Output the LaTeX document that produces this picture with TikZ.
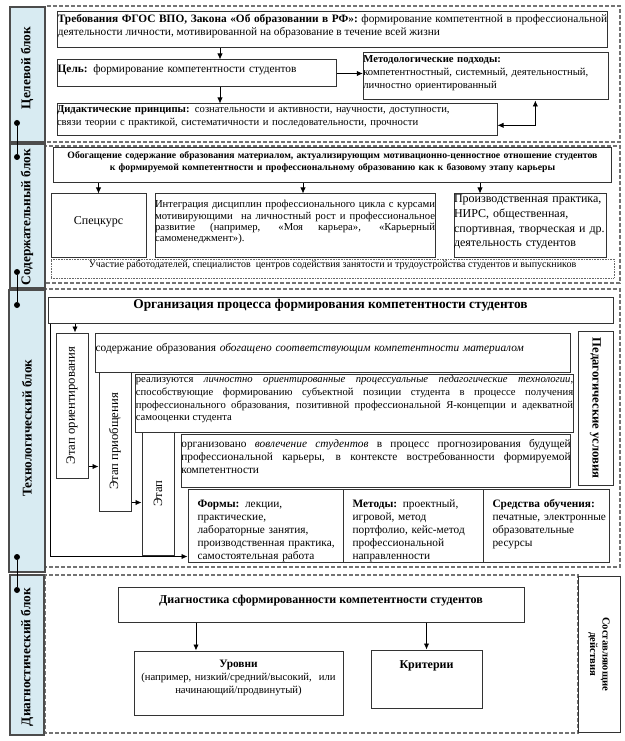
\documentclass[tikz,border=0pt]{standalone}
\usepackage{fontspec}
\setmainfont{Liberation Serif}
\usetikzlibrary{arrows.meta,fit}
\definecolor{stripblue}{RGB}{216,235,242}
\tikzset{>={Latex[width=4pt,length=4.5pt]}}
\tikzset{
  box/.style={draw=black!80, line width=0.75pt, fill=white, inner sep=0pt},
  dotbox/.style={draw=black!60, line width=0.6pt, dash pattern=on 0.6pt off 0.6pt, inner sep=0pt},
  strip/.style={draw=black!70, line width=0.9pt, fill=stripblue, inner sep=0pt},
  zone/.style={draw=black!55, line width=0.8pt, dash pattern=on 3pt off 1.5pt},
  dotend/.style={circle, fill=black, inner sep=0pt, minimum size=4.5pt},
  arr/.style={->, line width=0.6pt},
  t75/.style={font=\fontsize{7.5}{9}\selectfont},
  t8/.style={font=\fontsize{8}{9.5}\selectfont},
  t8c/.style={font=\fontsize{8}{8.5}\selectfont},
  t85/.style={font=\fontsize{8.5}{9.75}\selectfont},
  t9/.style={font=\fontsize{9}{11}\selectfont},
  t95/.style={font=\fontsize{9.5}{11}\selectfont},
  b73/.style={font=\fontsize{7.3}{9}\selectfont\bfseries},
  b8/.style={font=\fontsize{8}{9.5}\selectfont\bfseries},
  b9/.style={font=\fontsize{9}{11}\selectfont\bfseries},
  b95/.style={font=\fontsize{9.5}{11}\selectfont\bfseries},
  b10/.style={font=\fontsize{10}{12}\selectfont\bfseries},
}
\begin{document}
\begin{tikzpicture}[x=0.75pt,y=-0.75pt]
\useasboundingbox (0,0) rectangle (624,741);

% zones
\draw[zone] (45,6) rectangle (620,142);
\draw[zone] (45,146) rectangle (620,283);
\draw[zone] (45,289) rectangle (620,567);
\draw[zone] (45,575) rectangle (578,733);

% left strips
\node[strip, fit={(10,7) (45,142)}] (s1) {};
\node[strip, fit={(10,144) (45,288)}] (s2) {};
\node[strip, fit={(9,290) (45,572)}] (s3) {};
\node[strip, fit={(10,575) (44,735)}] (s4) {};
\node[b10, rotate=90] (s1t) at (27,68) {Целевой блок};
\node[b10, rotate=90] (s2t) at (27,217) {Содержательный блок};
\node[b10, rotate=90] (s3t) at (27,428) {Технологический блок};
\node[b10, rotate=90] (s4t) at (27,657) {Диагностический блок};

\node[dotend] (d1) at (17,123) {};
\node[dotend] (d2) at (17,157) {};
\node[dotend] (d3) at (17,272) {};
\node[dotend] (d4) at (17,305) {};
\node[dotend] (d5) at (17,557) {};
\node[dotend] (d6) at (17,590) {};
\draw[line width=0.6pt] (d1) -- (d2);
\draw[line width=0.6pt] (d3) -- (d4);
\draw[line width=0.6pt] (d5) -- (d6);

% block 1
\node[box, fit={(51,12) (614,48)}, t85, text width=412pt, align=justify] (treb)
  {\textbf{Требования ФГОС ВПО, Закона «Об образовании в РФ»:} формирование компетентной в профессиональной\linebreak деятельности личности, мотивированной на образование в течение всей жизни};
\node[box, fit={(51,60) (343,87)}, t85, text width=209pt, align=left] (cel)
  {\textbf{Цель:} формирование компетентности студентов};
\node[box, fit={(358,53) (614,100)}, t8, text width=184pt, align=left] (met)
  {\textbf{Методологические подходы:}\\компетентностный, системный, деятельностный,\\личностно ориентированный};
\node[box, fit={(51,104) (503,136)}, t8, text width=330pt, align=left] (did)
  {\textbf{Дидактические принципы:} сознательности и активности, научности, доступности,\\связи теории с практикой, систематичности и последовательности, прочности};
\coordinate (c1) at ([xshift=17.25pt]cel.north);
\coordinate (c2) at ([xshift=17.25pt]cel.south);
\draw[arr] (c1 |- treb.south) -- (c1);
\draw[arr] (c2) -- (c2 |- did.north);
\draw[arr] (cel.east) -- (cel.east -| met.west);
\coordinate (c3) at ([xshift=37pt]met.south);
\draw[<->, line width=0.6pt] ([yshift=-4pt]did.east) -| (c3);

% block 2
\node[box, fit={(51,148) (614,183)}, b73, text width=418pt, align=center] (obog)
  {Обогащение содержание образования материалом, актуализирующим мотивационно-ценностное отношение студентов\\к формируемой компетентности и профессиональному образованию как к базовому этапу карьеры};
\node[box, fit={(51,194) (146,258)}, t9] (spec) {Спецкурс};
\node[box, fit={(148,194) (442,258)}, t8c, text width=210pt, align=justify] (integ)
  {Интеграция дисциплин профессионального цикла с курсами\linebreak мотивирующими ~на личностный рост и профессиональное\linebreak развитие (например, «Моя карьера», «Карьерный\linebreak самоменеджмент»).};
\node[box, fit={(446,194) (614,258)}, t9, text width=114pt, align=left] (prakt)
  {Производственная практика,\\НИРС, общественная,\\спортивная, творческая и~др.\\деятельность студентов};
\node[dotbox, fit={(51,259) (614,278)}, t75] (uch)
  {Участие работодателей, специалистов ~центров содействия занятости и трудоустройства студентов и выпускников};
\coordinate (c4) at ([xshift=6pt]integ.north);
\coordinate (c5) at ([xshift=-37.5pt]prakt.north);
\draw[arr] (spec.north |- obog.south) -- (spec.north);
\draw[arr] (c4 |- obog.south) -- (c4);
\draw[arr] (c5 |- obog.south) -- (c5);

% block 3
\node[box, fit={(48,297) (613,323)}, b10] (org) {Организация процесса формирования компетентности студентов};
\node[box, fit={(188,489) (343,562)}] (formy) {};
\node[box, fit={(343,489) (483,562)}] (metody) {};
\node[box, fit={(483,489) (609,562)}] (sredstva) {};
\draw[arr] ([xshift=2.25pt]org.south west) |- ([yshift=4.5pt]formy.south west);
\node[box, fit={(56,333) (88,478)}] (etapO) {};
\node[t95, rotate=90] (etapOt) at (etapO.center) {Этап ориентирования};
\node[box, fit={(88,333) (578,372)}, t85, text width=356pt, align=left] (sodO)
  {содержание образования \textit{обогащено соответствующим компетентности материалом}};
\node[box, fit={(99,372) (131,511)}] (etapP) {};
\node[t95, rotate=90] (etapPt) at (etapP.center) {Этап приобщения};
\node[box, fit={(131,374) (578,432)}, t8, text width=328pt, align=justify] (real)
  {реализуются \textit{личностно ориентированные процессуальные педагогические технологии},\linebreak способствующие формированию субъектной позиции студента в процессе получения\linebreak профессионального образования, позитивной профессиональной Я-концепции и адекватной\linebreak самооценки студента};
\node[box, fit={(142,432) (174,555)}] (etap3) {};
\node[t95, rotate=90] (etap3t) at (etap3.center) {Этап};
\node[box, fit={(174,434) (578,487)}, t85, text width=292pt, align=justify] (vovl)
  {организовано \textit{вовлечение студентов} в процесс прогнозирования будущей\linebreak профессиональной карьеры, в контексте востребованности формируемой\linebreak компетентности};
\node[box, fit={(578,331) (613,485)}] (ped) {};
\node[b95, rotate=-90] (pedt) at (ped.center) {Педагогические условия};
\node[t85, anchor=north west, text width=110pt, align=left] (formyt) at ([xshift=4pt,yshift=-5pt]formy.north west)
  {\textbf{Формы:} лекции,\\практические,\\лабораторные занятия,\\производственная практика,\\самостоятельная работа};
\node[t85, anchor=north west, text width=98pt, align=left] (metodyt) at ([xshift=4pt,yshift=-5pt]metody.north west)
  {\textbf{Методы:} проектный,\\игровой, метод\\портфолио, кейс-метод\\профессиональной\\направленности};
\node[t85, anchor=north west, text width=88pt, align=left] (sredstvat) at ([xshift=4pt,yshift=-5pt]sredstva.north west)
  {\textbf{Средства обучения:}\\печатные, электронные\\образовательные\\ресурсы};
\coordinate (c6) at ([xshift=2.25pt]etapO.north);
\draw[arr] (c6 |- org.south) -- (c6);
\draw[arr] ([yshift=9pt]etapO.south east) -- ([yshift=9pt]etapO.south east -| etapP.west);
\draw[arr] ([yshift=6.75pt]etapP.south east) -- ([yshift=6.75pt]etapP.south east -| etap3.west);

% block 4
\node[box, fit={(118,587) (524,622)}, b9] (diag) {Диагностика сформированности компетентности студентов};
\node[box, fit={(134,651) (343,715)}] (urov) {};
\node[t8, anchor=north, text width=150pt, align=center] (urovt) at ([yshift=-4pt]urov.north)
  {{\fontsize{8.5}{9.5}\selectfont\bfseries Уровни}\\(например, низкий/средний/высокий, ~или\\начинающий/продвинутый)};
\node[box, fit={(371,650) (482,708)}] (krit) {};
\node[b9, anchor=north] (kritt) at ([yshift=-5pt]krit.north) {Критерии};
\node[box, fit={(578,576) (620,732)}] (sost) {};
\node[b8, rotate=-90, align=center] (sostt) at (sost.center) {Составляющие\\действия};
\coordinate (c7) at ([xshift=-31.9pt]urov.north);
\draw[arr] (c7 |- diag.south) -- (c7);
\draw[arr] (krit.north |- diag.south) -- (krit.north);

\end{tikzpicture}
\end{document}
